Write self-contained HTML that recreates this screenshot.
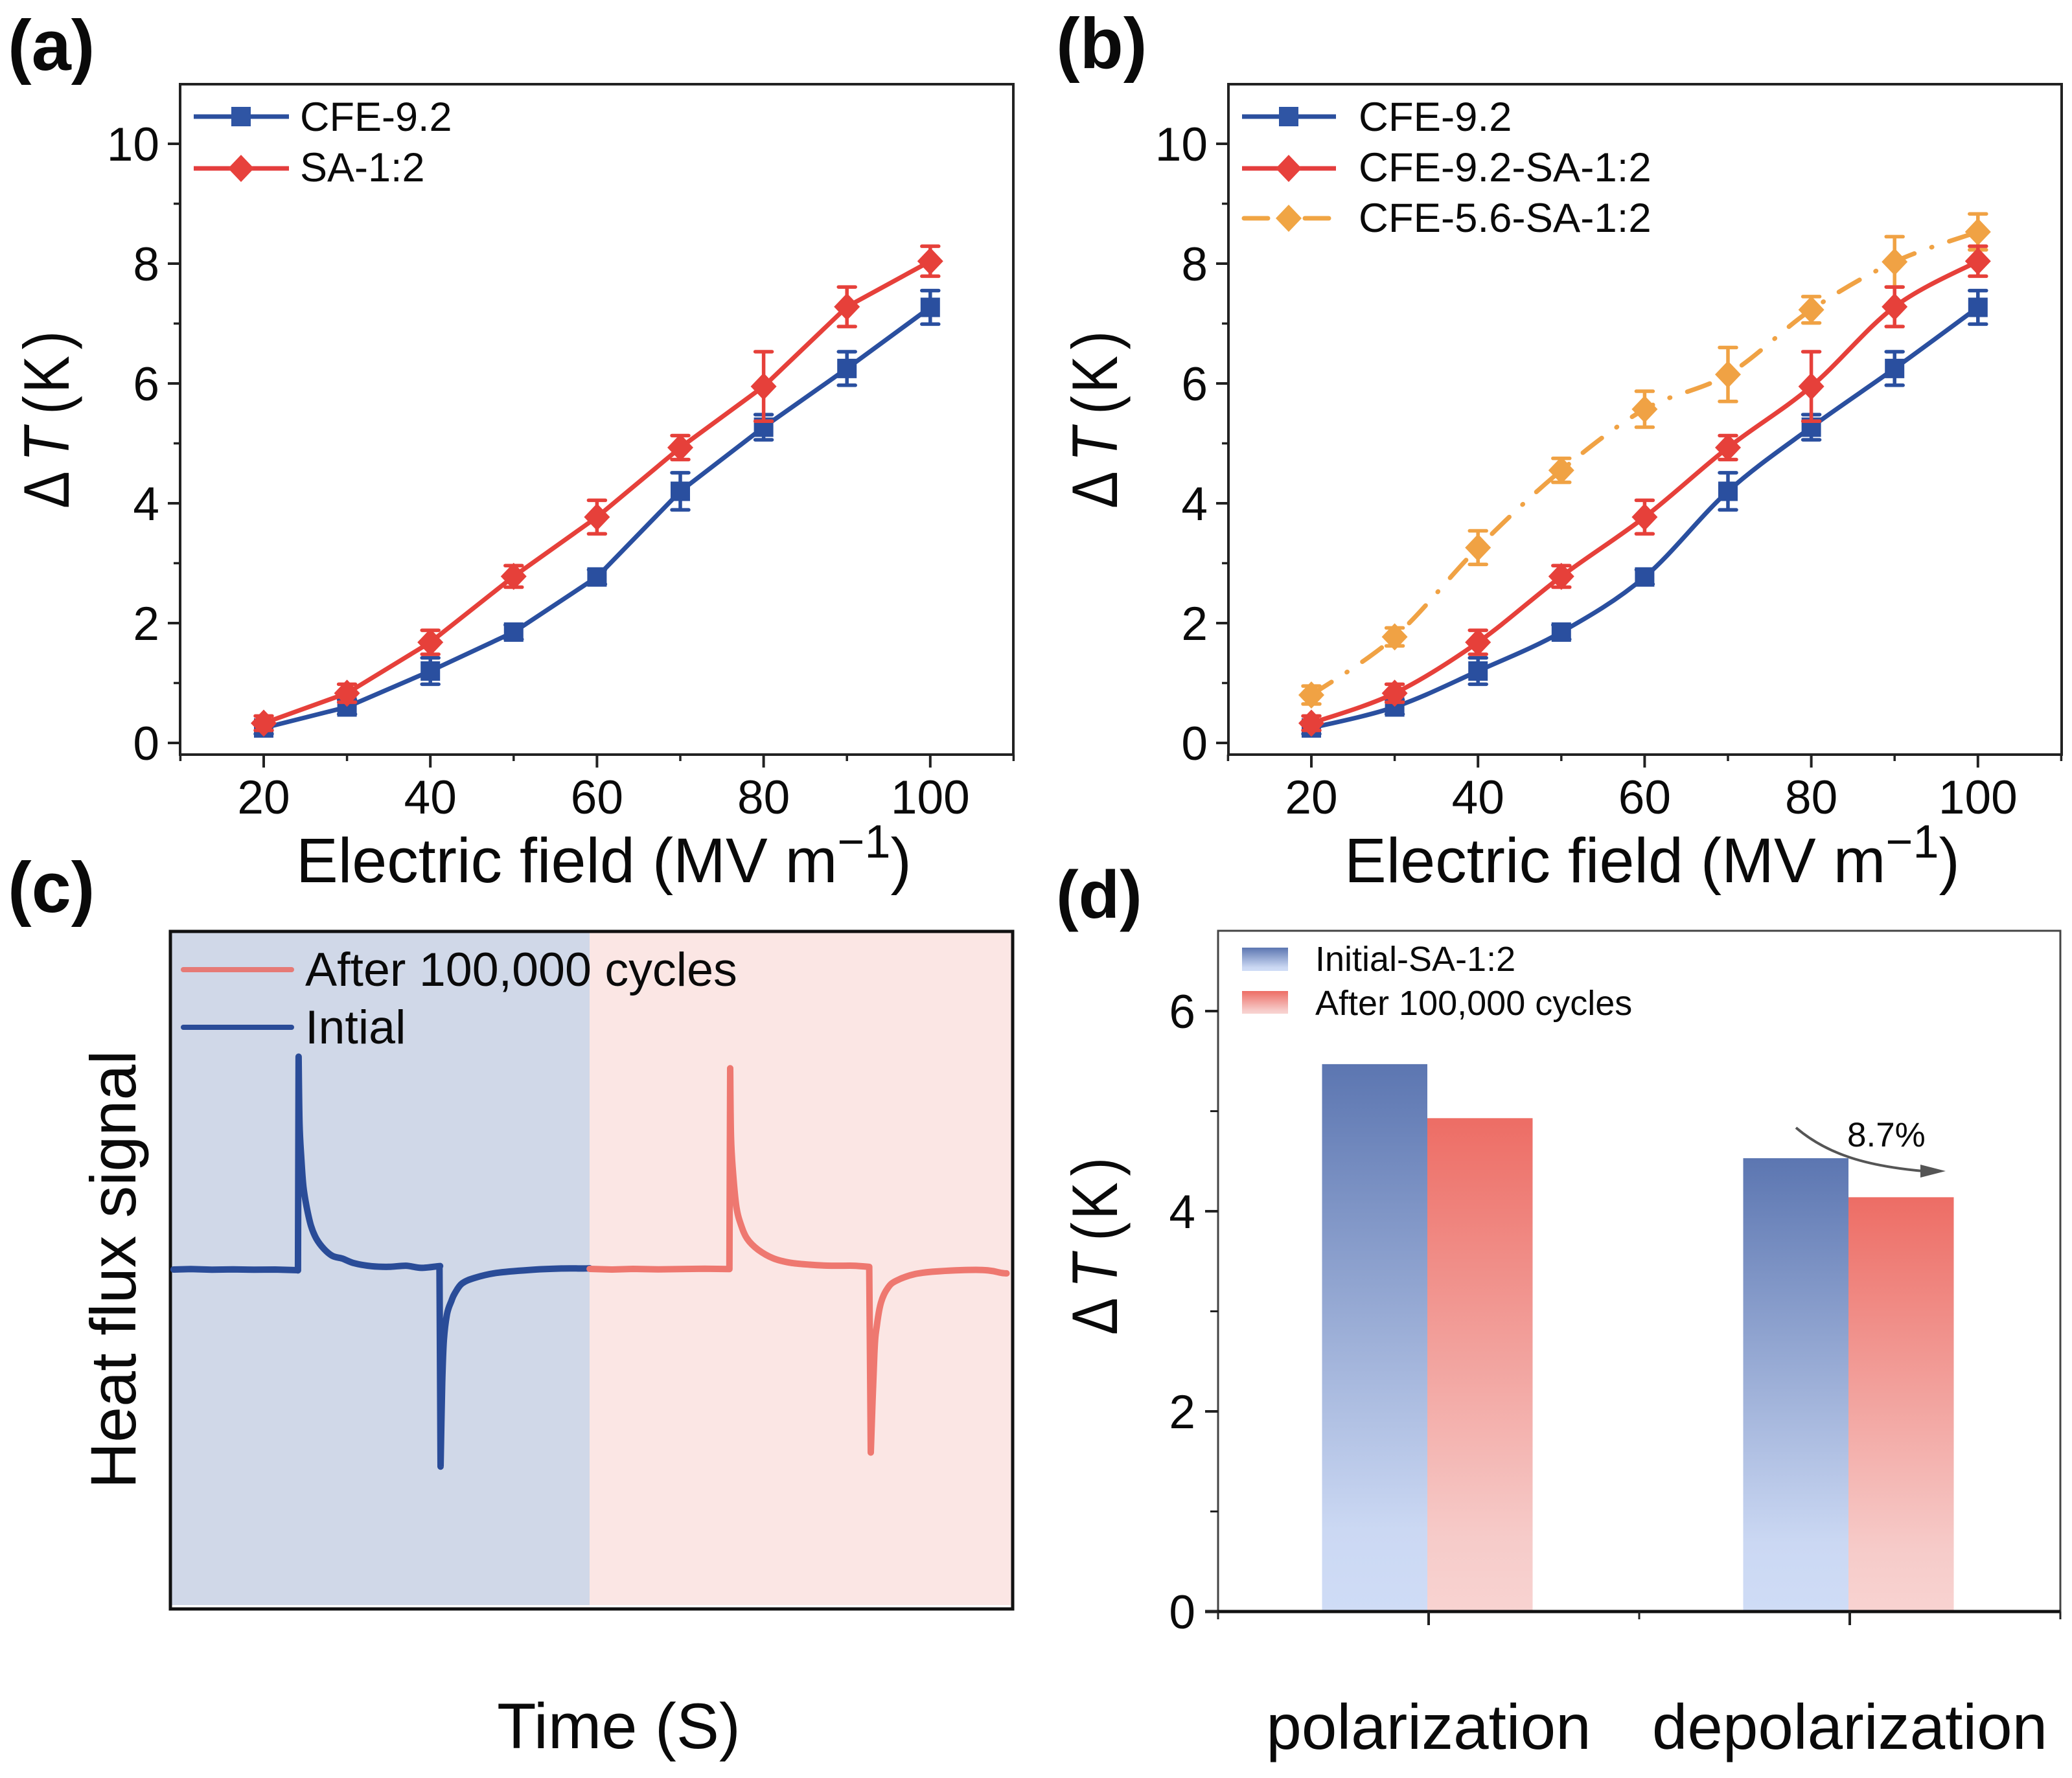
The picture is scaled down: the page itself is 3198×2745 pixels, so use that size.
<!DOCTYPE html>
<html lang="en">
<head>
<meta charset="utf-8">
<title>Electrocaloric performance panels</title>
<style>
html,body{margin:0;padding:0;background:#fff;width:3198px;height:2745px;overflow:hidden}
svg{display:block}
text{font-family:"Liberation Sans",sans-serif;fill:#0a0a0a}
</style>
</head>
<body>
<svg id="figure" xmlns="http://www.w3.org/2000/svg" width="3198" height="2745" viewBox="0 0 3198 2745">
<defs>
<linearGradient id="blue-grad" x1="0" y1="0" x2="0" y2="1"><stop offset="0" stop-color="#5c76b1"/><stop offset="0.85" stop-color="#cbd8f3"/><stop offset="1" stop-color="#cfdcf6"/></linearGradient>
<linearGradient id="red-grad" x1="0" y1="0" x2="0" y2="1"><stop offset="0" stop-color="#ed6d65"/><stop offset="0.85" stop-color="#f6cbc9"/><stop offset="1" stop-color="#f8d3d1"/></linearGradient>
</defs>
<rect width="3198" height="2745" fill="#fff"/>

<!-- Panel a -->
<g id="panel-a">
<text x="12" y="108" font-size="110" font-weight="700">(a)</text>
<rect x="278" y="130" width="1286" height="1035" fill="none" stroke="#222" stroke-width="4"/>
<g id="ticks-a"></g>
<g id="marks-a"></g>
<text transform="translate(106 785) rotate(-90) scale(.87 1)" font-size="99"><tspan x="0">Δ</tspan><tspan x="83" font-style="italic">T</tspan><tspan x="167">(</tspan><tspan x="205">K</tspan><tspan x="282">)</tspan></text>
<text x="457" y="1362" font-size="97">Electric field (MV m<tspan font-size="72" dy="-38">−1</tspan><tspan dy="38">)</tspan></text>
<g>
<line x1="299" y1="180" x2="446" y2="180" stroke="#2b4f9e" stroke-width="7"/>
<rect x="357" y="165" width="30" height="30" fill="#2f55a4"/>
<text x="463" y="202" font-size="63">CFE-9.2</text>
<line x1="299" y1="260" x2="446" y2="260" stroke="#e43d3d" stroke-width="7"/>
<polygon points="372,239 392,260 372,281 352,260" fill="#e7413c"/>
<text x="463" y="280" font-size="63">SA-1:2</text>
</g>
</g>

<!-- Panel b -->
<g id="panel-b">
<text x="1630" y="105" font-size="110" font-weight="700">(b)</text>
<rect x="1896" y="130" width="1286" height="1035" fill="none" stroke="#222" stroke-width="4"/>
<g id="ticks-b"></g>
<g id="marks-b"></g>
<text transform="translate(1724 785) rotate(-90) scale(.87 1)" font-size="99"><tspan x="0">Δ</tspan><tspan x="83" font-style="italic">T</tspan><tspan x="167">(</tspan><tspan x="205">K</tspan><tspan x="282">)</tspan></text>
<text x="2075" y="1362" font-size="97">Electric field (MV m<tspan font-size="72" dy="-38">−1</tspan><tspan dy="38">)</tspan></text>
<g>
<line x1="1917" y1="180" x2="2062" y2="180" stroke="#2b4f9e" stroke-width="7"/>
<rect x="1974" y="165" width="30" height="30" fill="#2f55a4"/>
<text x="2097" y="202" font-size="63.5">CFE-9.2</text>
<line x1="1917" y1="260" x2="2062" y2="260" stroke="#e43d3d" stroke-width="7"/>
<polygon points="1989,239 2009,260 1989,281 1969,260" fill="#e7413c"/>
<text x="2097" y="280" font-size="63.5">CFE-9.2-SA-1:2</text>
<line x1="1920" y1="337" x2="2060" y2="337" stroke="#f0a544" stroke-width="7" stroke-linecap="round" stroke-dasharray="37 28 1 28"/>
<polygon points="1989,316 2009,337 1989,358 1969,337" fill="#f0a544"/>
<text x="2097" y="358" font-size="63.5">CFE-5.6-SA-1:2</text>
</g>
</g>

<!-- Panel c -->
<g id="panel-c">
<text x="12" y="1408" font-size="110" font-weight="700">(c)</text>
<rect x="264" y="1439" width="646" height="1039" fill="#d0d8e8"/>
<rect x="910" y="1439" width="652" height="1039" fill="#fbe6e4"/>
<rect x="263" y="1438" width="1300" height="1046" fill="none" stroke="#111" stroke-width="5"/>
<g id="marks-c"></g>
<line x1="283" y1="1497" x2="450" y2="1497" stroke="#e67a76" stroke-width="8" stroke-linecap="round"/>
<text x="471" y="1522" font-size="73.6">After 100,000 cycles</text>
<line x1="283" y1="1586" x2="450" y2="1586" stroke="#2a4c98" stroke-width="8" stroke-linecap="round"/>
<text x="471" y="1611" font-size="73.6">Intial</text>
<text transform="translate(209 1960) rotate(-90)" font-size="99" text-anchor="middle">Heat flux signal</text>
<text x="955" y="2699" font-size="99" text-anchor="middle">Time (S)</text>
</g>

<!-- Panel d -->
<g id="panel-d">
<text x="1630" y="1417" font-size="104" font-weight="700">(d)</text>
<path d="M1880 2488V1437H3180V2488" fill="none" stroke="#444" stroke-width="3"/>
<g id="marks-d"></g>
<line x1="1860" y1="2488" x2="3180" y2="2488" stroke="#111" stroke-width="5"/>
<g id="ticks-d"></g>
<rect x="1917" y="1463" width="71" height="36" fill="url(#blue-grad)"/>
<text x="2030" y="1499" font-size="54">Initial-SA-1:2</text>
<rect x="1917" y="1530" width="71" height="35" fill="url(#red-grad)"/>
<text x="2030" y="1567" font-size="54">After 100,000 cycles</text>
<path d="M2772 1741C2820 1782 2880 1800 2968 1808" fill="none" stroke="#555" stroke-width="4"/>
<polygon points="3003,1808 2964,1798 2964,1818" fill="#555"/>
<text x="2851" y="1770" font-size="53">8.7%</text>
<text transform="translate(1724 2061) rotate(-90) scale(.87 1)" font-size="99"><tspan x="0">Δ</tspan><tspan x="83" font-style="italic">T</tspan><tspan x="167">(</tspan><tspan x="205">K</tspan><tspan x="282">)</tspan></text>
</g>
</svg>

<script>
// ---- chart data ----
const fieldValues = [20, 30, 40, 50, 60, 70, 80, 90, 100];
const xTickLabels = [20, 40, 60, 80, 100];
const xMinorTicks = [10, 30, 50, 70, 90, 110];
const yTickLabels = [0, 2, 4, 6, 8, 10];
const yMinorTicks = [1, 3, 5, 7, 9];

const cfeValues = [0.25, 0.6, 1.2, 1.85, 2.77, 4.2, 5.27, 6.25, 7.27];
const cfeErrors = [0.1, 0.12, 0.22, 0.12, 0.12, 0.31, 0.21, 0.28, 0.28];
const saValues = [0.33, 0.83, 1.68, 2.78, 3.77, 4.93, 5.95, 7.28, 8.04];
const saErrors = [0.12, 0.15, 0.2, 0.18, 0.28, 0.2, 0.58, 0.33, 0.25];
const cfe56Values = [0.8, 1.77, 3.26, 4.55, 5.57, 6.15, 7.23, 8.03, 8.53];
const cfe56Errors = [0.15, 0.15, 0.28, 0.2, 0.3, 0.45, 0.22, 0.42, 0.3];

const initialTime = [0.9, 5, 10, 15, 20, 25, 30.3, 30.45, 30.6, 30.82, 31.23, 31.74, 32.51, 33.54, 34.82, 36.61, 38.67, 40.97, 43.79, 47.9, 52, 56.1, 59.7, 63.8, 64.05, 64.3, 64.7, 65.1, 65.85, 66.87, 67.64, 69.4, 72.5, 77.6, 85.3, 93, 98.15, 99.7];
const initialSignal = [0, 0.2, -0.1, 0.1, -0.1, 0, -0.3, -0.4, 100.8, 69.3, 52.9, 39.2, 29.6, 20.7, 14.6, 9.8, 6.4, 5.2, 3, 1.6, 1.3, 1.8, 0.8, 1.6, 1.6, -93.3, -53.9, -33.3, -21, -14.9, -11.4, -6.6, -3.9, -1.6, -0.2, 0.5, 0.5, 0.6];
const cycledTime = [99.7, 105, 110, 116, 121.2, 127, 132.77, 132.9, 133.08, 133.28, 133.8, 134.56, 135.6, 137.1, 139.7, 143.3, 147.4, 152, 157.1, 162.3, 166.1, 166.46, 167.3, 167.9, 168.9, 170.5, 172.5, 177.1, 182.8, 193, 197.5, 198.7];
const cycledSignal = [0.3, 0, 0.3, 0.1, 0.2, 0.4, 0.2, 0.2, 95.3, 62.5, 44.7, 29.6, 21.4, 14.6, 9.4, 5.3, 3.2, 2.3, 1.8, 1.8, 1.3, -86.7, -40.2, -26.5, -15.5, -8.7, -5.3, -2.1, -0.8, -0.2, -1.6, -1.8];

const barCategories = ["polarization", "depolarization"];
const initialBars = [5.47, 4.53];
const cycledBars = [4.93, 4.14];
const dYTickLabels = [0, 2, 4, 6];
const dYMinorTicks = [1, 3, 5];

// ---- axis functions ----
const xA = v => 407 + (v - 20) * 12.86;
const xB = v => 2024 + (v - 20) * 12.86;
const yAB = v => 1147 - v * 92.5;
const xC = t => 262 + t * 6.5;
const yC = s => 1960 - s * 3.26;
const xD = c => 1880 + (c - 0.5) * 650;
const yD = v => 2488 - v * 154.5;
const barNudge = -2;

const NS = "http://www.w3.org/2000/svg";
function mk(tag, parent, attrs, txt) {
  const el = document.createElementNS(NS, tag);
  for (const k in attrs) el.setAttribute(k, attrs[k]);
  if (txt !== undefined) el.textContent = txt;
  parent.appendChild(el);
  return el;
}

function linePath(xs, ys) {
  return xs.map((x, i) => (i ? "L" : "M") + x.toFixed(1) + " " + ys[i].toFixed(1)).join("");
}
function smoothSegs(xs, ys) {
  let d = "";
  for (let i = 0; i < xs.length - 1; i++) {
    const p = Math.max(i - 1, 0), n = Math.min(i + 2, xs.length - 1);
    const c1x = xs[i] + (xs[i + 1] - xs[p]) / 6, c1y = ys[i] + (ys[i + 1] - ys[p]) / 6;
    const c2x = xs[i + 1] - (xs[n] - xs[i]) / 6, c2y = ys[i + 1] - (ys[n] - ys[i]) / 6;
    d += "C" + [c1x, c1y, c2x, c2y, xs[i + 1], ys[i + 1]].map(v => v.toFixed(1)).join(" ");
  }
  return d;
}
function smoothPath(xs, ys) {
  return "M" + xs[0].toFixed(1) + " " + ys[0].toFixed(1) + smoothSegs(xs, ys);
}
// sharp rise to the peak and sharp fall to the trough; curved decay after each
function tracePath(times, signal) {
  const xs = times.map(xC), ys = signal.map(yC);
  const peak = signal.indexOf(Math.max(...signal));
  const trough = signal.indexOf(Math.min(...signal));
  return linePath(xs.slice(0, peak + 1), ys.slice(0, peak + 1))
    + smoothSegs(xs.slice(peak, trough), ys.slice(peak, trough))
    + "L" + xs[trough].toFixed(1) + " " + ys[trough].toFixed(1)
    + smoothSegs(xs.slice(trough), ys.slice(trough));
}

function drawXYTicks(group, xFn, yFn, frameLeft, frameBottom, prefix) {
  xTickLabels.forEach(v => {
    const t = mk("line", group, {x1: xFn(v), x2: xFn(v), y1: frameBottom, y2: frameBottom + 20, stroke: "#222", "stroke-width": 4});
    
    
    const l = mk("text", group, {x: xFn(v), y: 1256, "font-size": 73, "text-anchor": "middle"}, String(v));
    
    
  });
  xMinorTicks.forEach(v => {
    const t = mk("line", group, {x1: xFn(v), x2: xFn(v), y1: frameBottom, y2: frameBottom + 10, stroke: "#222", "stroke-width": 3.5});
    
    
  });
  yTickLabels.forEach(v => {
    const t = mk("line", group, {x1: frameLeft - 19, x2: frameLeft, y1: yFn(v), y2: yFn(v), stroke: "#222", "stroke-width": 4});
    
    
    const l = mk("text", group, {x: frameLeft - 32, y: yFn(v) + 26, "font-size": 73, "text-anchor": "end"}, String(v));
    
    
  });
  yMinorTicks.forEach(v => {
    const t = mk("line", group, {x1: frameLeft - 10, x2: frameLeft, y1: yFn(v), y2: yFn(v), stroke: "#222", "stroke-width": 3.5});
    
    
  });
}

function drawSeries(group, name, values, errors, xFn, yFn, color, shape, smooth, dash) {
  const xs = fieldValues.map(xFn), ys = values.map(yFn);
  const g = mk("g", group, {});
  
  
  const line = mk("path", g, {d: smooth ? smoothPath(xs, ys) : linePath(xs, ys), fill: "none", stroke: color, "stroke-width": 7, "stroke-linejoin": "round"});
  if (dash) {
    line.setAttribute("stroke-dasharray", dash);
    line.setAttribute("stroke-linecap", "round");
  }
  
  
  values.forEach((v, i) => {
    const x = xs[i], top = yFn(v + errors[i]), bot = yFn(v - errors[i]);
    const err = mk("path", g, {d: `M${x} ${top}V${bot}M${x - 13} ${top}H${x + 13}M${x - 13} ${bot}H${x + 13}`, fill: "none", stroke: color, "stroke-width": 5.5, "stroke-linecap": "round"});
    
    
    const y = ys[i];
    let m;
    if (shape === "square") m = mk("rect", g, {x: x - 15, y: y - 15, width: 30, height: 30, fill: color});
    else m = mk("polygon", g, {points: `${x},${y - 21} ${x + 20},${y} ${x},${y + 21} ${x - 20},${y}`, fill: color});
    
    
  });
}

const BLUE = "#2a4f9f", RED = "#e6403a", ORANGE = "#f0a244";

// panel a
drawXYTicks(document.getElementById("ticks-a"), xA, yAB, 278, 1165, "a");
const marksA = document.getElementById("marks-a");
drawSeries(marksA, "cfe-series-a", cfeValues, cfeErrors, xA, yAB, BLUE, "square", false);
drawSeries(marksA, "sa-series-a", saValues, saErrors, xA, yAB, RED, "diamond", false);

// panel b
drawXYTicks(document.getElementById("ticks-b"), xB, yAB, 1896, 1165, "b");
const marksB = document.getElementById("marks-b");
drawSeries(marksB, "cfe56-sa-series-b", cfe56Values, cfe56Errors, xB, yAB, ORANGE, "diamond", true, "37 28 1 28");
drawSeries(marksB, "cfe-series-b", cfeValues, cfeErrors, xB, yAB, BLUE, "square", true);
drawSeries(marksB, "cfe92-sa-series-b", saValues, saErrors, xB, yAB, RED, "diamond", true);

// panel c
const marksC = document.getElementById("marks-c");
const traceInitial = mk("path", marksC, {d: tracePath(initialTime, initialSignal), fill: "none", stroke: "#2a4c98", "stroke-width": 10, "stroke-linejoin": "round", "stroke-linecap": "round"});


const traceCycled = mk("path", marksC, {d: tracePath(cycledTime, cycledSignal), fill: "none", stroke: "#ee7870", "stroke-width": 10, "stroke-linejoin": "round", "stroke-linecap": "round"});



// panel d
const marksD = document.getElementById("marks-d");
const ticksD = document.getElementById("ticks-d");
barCategories.forEach((cat, i) => {
  const c = i + 1;
  const b1 = mk("rect", marksD, {x: xD(c - 0.25) + barNudge, y: yD(initialBars[i]), width: xD(c) - xD(c - 0.25), height: yD(0) - yD(initialBars[i]), fill: "url(#blue-grad)"});
  
  
  const b2 = mk("rect", marksD, {x: xD(c) + barNudge, y: yD(cycledBars[i]), width: xD(c + 0.25) - xD(c), height: yD(0) - yD(cycledBars[i]), fill: "url(#red-grad)"});
  
  
  const t = mk("line", ticksD, {x1: xD(c), x2: xD(c), y1: 2488, y2: 2509, stroke: "#222", "stroke-width": 4});
  
  
  const l = mk("text", ticksD, {x: xD(c), y: 2700, "font-size": 98, "text-anchor": "middle"}, cat);
  
  
});
[0.5, 1.5, 2.5].forEach(c => {
  const t = mk("line", ticksD, {x1: xD(c), x2: xD(c), y1: 2488, y2: 2500, stroke: "#222", "stroke-width": 3});
  
  
});
dYTickLabels.forEach(v => {
  const t = mk("line", ticksD, {x1: 1860, x2: 1880, y1: yD(v), y2: yD(v), stroke: "#222", "stroke-width": 4});
  
  
  const l = mk("text", ticksD, {x: 1845, y: yD(v) + 26, "font-size": 73, "text-anchor": "end"}, String(v));
  
  
});
dYMinorTicks.forEach(v => {
  const t = mk("line", ticksD, {x1: 1868, x2: 1880, y1: yD(v), y2: yD(v), stroke: "#222", "stroke-width": 3});
  
  
});
</script>
</body>
</html>
